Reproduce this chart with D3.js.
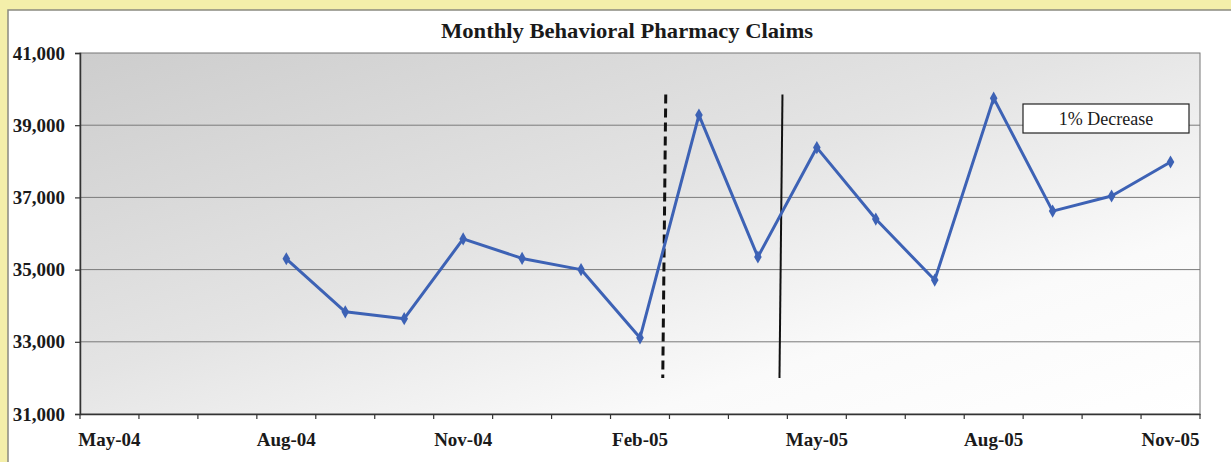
<!DOCTYPE html>
<html><head><meta charset="utf-8">
<script src="https://cdn.jsdelivr.net/npm/d3@7"></script>
<style>html,body{margin:0;padding:0;background:#f4efaa;overflow:hidden}</style>
</head><body>
<svg id="c" width="1231" height="462"></svg>
<script>
const months = ["May-04","Jun-04","Jul-04","Aug-04","Sep-04","Oct-04","Nov-04","Dec-04","Jan-05","Feb-05","Mar-05","Apr-05","May-05","Jun-05","Jul-05","Aug-05","Sep-05","Oct-05","Nov-05"];
const claimMonths = ["Aug-04","Sep-04","Oct-04","Nov-04","Dec-04","Jan-05","Feb-05","Mar-05","Apr-05","May-05","Jun-05","Jul-05","Aug-05","Sep-05","Oct-05","Nov-05"];
const claims = [35300,33830,33640,35850,35310,35000,33110,39280,35350,38380,36400,34710,39750,36620,37040,37980];
const yTicks = [31000,33000,35000,37000,39000,41000];
const xLabels = ["May-04","Aug-04","Nov-04","Feb-05","May-05","Aug-05","Nov-05"];
// reference lines: month, offset within month band (fraction), value range, style
const markerMonths = ["Feb-05","Apr-05"];
const markerOffsets = [0.92, 0.90];
const markerRange = [32000, 39850];
const markerStyles = ["dashed","solid"];
const title = "Monthly Behavioral Pharmacy Claims";
const noteText = "1% Decrease";

const FONT = "'Liberation Serif','Times New Roman',serif";
const svg = d3.select("#c");
svg.append("rect").attr("x",8).attr("y",10).attr("width",1240).attr("height",470)
  .attr("fill","#ffffff").attr("stroke","#8a8a80").attr("stroke-width",1.5);

const m = {l:80, r:1200, t:53, b:414};
const x = d3.scaleBand().domain(months).range([m.l, m.r]).padding(0);
const y = d3.scaleLinear().domain([31000,41000]).range([m.b, m.t]);

const defs = svg.append("defs");
const g = defs.append("linearGradient").attr("id","bg").attr("x1","0").attr("y1","0").attr("x2","1").attr("y2","1");
g.append("stop").attr("offset","0").attr("stop-color","#cdcdcd");
g.append("stop").attr("offset","0.45").attr("stop-color","#e4e4e4");
g.append("stop").attr("offset","0.75").attr("stop-color","#fafafa");
g.append("stop").attr("offset","1").attr("stop-color","#ffffff");

svg.append("rect").attr("x",m.l).attr("y",m.t).attr("width",m.r-m.l).attr("height",m.b-m.t)
  .attr("fill","url(#bg)").attr("stroke","#777").attr("stroke-width",1);

svg.append("g").selectAll("line").data(yTicks.slice(1,-1)).join("line")
  .attr("x1",m.l).attr("x2",m.r).attr("y1",d=>y(d)).attr("y2",d=>y(d))
  .attr("stroke","#7a7a7a").attr("stroke-width",1);

const ya = svg.append("g").attr("transform",`translate(${m.l},0)`)
  .call(d3.axisLeft(y).tickValues(yTicks).tickSize(5).tickPadding(10).tickFormat(d3.format(",")));
ya.select(".domain").attr("stroke","#333").attr("stroke-width",1.5);
ya.selectAll(".tick line").attr("stroke","#333").attr("stroke-width",1.2);
ya.selectAll("text").attr("font-family",FONT)
  .attr("font-size",19).attr("font-weight","bold").attr("fill","#1a1a1a");

const xa = svg.append("g").attr("transform",`translate(0,${m.b})`)
  .call(d3.axisBottom(x).tickValues(xLabels).tickSize(0).tickPadding(19));
xa.select(".domain").attr("stroke","#333").attr("stroke-width",1.5);
xa.selectAll("text").attr("font-family",FONT)
  .attr("font-size",19).attr("font-weight","bold").attr("fill","#1a1a1a");
svg.append("g").selectAll("line").data(months.concat(["_end"])).join("line")
  .attr("x1",(d,i)=>m.l + i*x.bandwidth()).attr("x2",(d,i)=>m.l + i*x.bandwidth())
  .attr("y1",m.b).attr("y2",m.b+5).attr("stroke","#333").attr("stroke-width",1.2);

svg.append("g").selectAll("line").data(markerMonths).join("line")
  .attr("x1",(d,i)=>x(d)+markerOffsets[i]*x.bandwidth()+1)
  .attr("x2",(d,i)=>x(d)+markerOffsets[i]*x.bandwidth()-2)
  .attr("y1",y(markerRange[1])).attr("y2",y(markerRange[0]))
  .attr("stroke","#111").attr("stroke-width",(d,i)=>markerStyles[i]==="dashed"?3:2)
  .attr("stroke-dasharray",(d,i)=>markerStyles[i]==="dashed"?"9,5":null);

const pts = claimMonths.map((mo,i)=>({mo, v:claims[i]}));
svg.append("path").datum(pts)
  .attr("d", d3.line().x(d=>x(d.mo)+x.bandwidth()/2).y(d=>y(d.v)))
  .attr("fill","none").attr("stroke","#3d62b5").attr("stroke-width",3).attr("stroke-linejoin","round");
svg.append("g").selectAll("path").data(pts).join("path")
  .attr("transform",d=>`translate(${x(d.mo)+x.bandwidth()/2},${y(d.v)})`)
  .attr("d", d3.symbol().type(d3.symbolDiamond).size(50))
  .attr("fill","#3d62b5");

svg.append("text").attr("x",627).attr("y",38).attr("text-anchor","middle")
  .attr("font-family",FONT).attr("font-size",21.5)
  .attr("textLength",372).attr("lengthAdjust","spacingAndGlyphs")
  .attr("font-weight","bold").attr("fill","#1a1a1a").text(title);

svg.append("rect").attr("x",1023).attr("y",104).attr("width",166).attr("height",29)
  .attr("fill","#fff").attr("stroke","#222").attr("stroke-width",1.2);
svg.append("text").attr("x",1106).attr("y",125).attr("text-anchor","middle")
  .attr("font-family",FONT).attr("font-size",18)
  .attr("fill","#1a1a1a").text(noteText);
</script>
</body></html>
